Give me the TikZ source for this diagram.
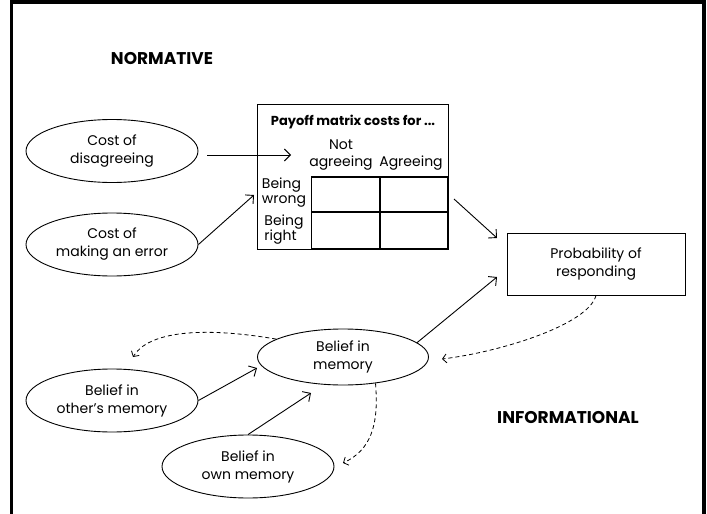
\documentclass[tikz,border=0pt]{standalone}
\usepackage{fontspec}
\setmainfont{Poppins}
\usetikzlibrary{arrows.meta,calc,shapes.geometric}
\begin{document}
\begin{tikzpicture}[x=1pt,y=-1pt,
  txt/.style={inner sep=0pt, align=center, font=\fontsize{14}{18}\selectfont},
  ell/.style={draw, ellipse, line width=0.9pt, minimum width=172pt, minimum height=63pt, inner sep=0pt, align=center, font=\fontsize{14}{18}\selectfont},
  box/.style={draw, line width=1pt, inner sep=0pt},
  head/.style={font=\bfseries\fontsize{17}{19}\selectfont, inner sep=0pt},
  arr/.style={line width=0.9pt, -{Straight Barb[length=6pt,width=12pt]}},
  darr/.style={line width=0.8pt, dash pattern=on 4pt off 3pt, -{Straight Barb[length=4pt,width=9pt]}},
  gridline/.style={line width=1.2pt}
]
\useasboundingbox (0,0) rectangle (707,514);
% frame
\draw[line width=3.5pt] (11.5,514) -- (11.5,1.75) -- (704,1.75) -- (704,514);

\node[head] (norm) at (162,59) {NORMATIVE};
\node[head] (info) at (568,418) {INFORMATIONAL};

\node[ell] (dis) at (112,151) {Cost of\\disagreeing};
\node[ell] (err) at (112,244.5) {Cost of\\making an error};

% payoff matrix
\node[box, minimum width=191pt, minimum height=145pt] (pay) at (352.5,176.5) {};
\node[font=\bfseries\fontsize{13}{15}\selectfont, inner sep=0pt] (ttl) at (353,122) {Payoff matrix costs for ...};
\node[txt, font=\fontsize{14}{17}\selectfont] (not) at (341,155) {Not\\agreeing};
\node[txt] (agr) at (411,163) {Agreeing};
\node[txt, align=left, font=\fontsize{14}{15}\selectfont] (wr) at (284,192.5) {Being\\wrong};
\node[txt, align=left, font=\fontsize{14}{15}\selectfont] (rt) at (284,230) {Being\\right};
\draw[gridline] (311.5,177) rectangle (448,249);
\draw[gridline] (380,177) -- (380,249);
\draw[gridline] (311.5,212) -- (448,212);

\node[box, minimum width=178pt, minimum height=62pt, txt, draw, line width=1pt] (prob) at (596,264) {Probability of\\responding};

\node[ell, minimum width=171pt, minimum height=56pt] (mem) at (343,357) {Belief in\\memory};
\node[ell] (oth) at (112,400.5) {Belief in\\other’s memory};
\node[ell] (own) at (248,466.5) {Belief in\\own memory};

% helper coordinates for free ends
\coordinate (a1e) at (291,155);
\coordinate (a2e) at (254,195);
\coordinate (a3s) at (454,199);
\coordinate (a3e) at (497,238);
\coordinate (a4e) at (497,277);
\coordinate (a5e) at (257,368);
\coordinate (a6e) at (311,393);
\coordinate (d1e) at (442,359);
\coordinate (d2e) at (133,357);
\coordinate (d3e) at (343,463);

\draw[arr] ($(dis.east)+(9,4)$) -- (a1e);
\draw[arr] (err.east) -- (a2e);
\draw[arr] (a3s) -- (a3e);
\draw[arr] (mem.11) -- (a4e);
\draw[arr] (oth.east) -- (a5e);
\draw[arr] (own.north) -- (a6e);

\draw[darr] (prob.south) .. controls (588,325) and (500,352) .. (d1e);
\draw[darr] (mem.165) .. controls (200,326) and (148,332) .. (d2e);
\draw[darr] (mem.-39) .. controls (379,425) and (371,450) .. (d3e);
\end{tikzpicture}
\end{document}
